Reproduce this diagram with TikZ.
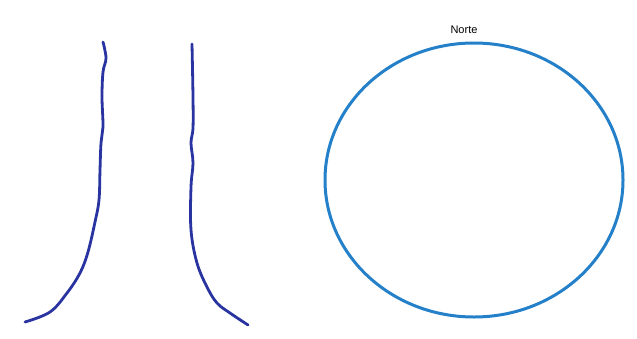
\documentclass[tikz,border=0pt]{standalone}
\usepackage{fontspec}
\setmainfont{Liberation Sans}
\definecolor{trazo}{RGB}{42,52,160}
\definecolor{borde}{RGB}{36,128,200}
\tikzset{
	tronco/.style={trazo,line width=2.8pt,line cap=round,line join=round},
	contorno/.style={borde,line width=3pt},
	rotulo/.style={font=\fontsize{11}{13}\selectfont,inner sep=0pt}
}
\begin{document}
\begin{tikzpicture}[x=1pt,y=-1pt]
	\useasboundingbox (0,0) rectangle (637,338);
	\def\cx{474}
	\def\cy{180}
	% lado izquierdo
	\draw[tronco] plot[smooth,tension=0.6] coordinates {(103,42) (106,58) (103,72) (102,97) (103,127) (101,143) (100,170) (99,200) (95,222) (88,252) (80,273) (67,293) (50,312) (25,322)};
	% lado derecho
	\draw[tronco] plot[smooth,tension=0.6] coordinates {(192,44) (193,97) (193,128) (191,143) (193,163) (191,187) (191,230) (197,263) (207,287) (217,303) (230,313) (248,325)};
	% circunferencia
	\draw[contorno] (\cx,\cy) ellipse (149 and 137);
	\node[rotulo] (norte) at (464,30) {Norte};
\end{tikzpicture}
\end{document}
